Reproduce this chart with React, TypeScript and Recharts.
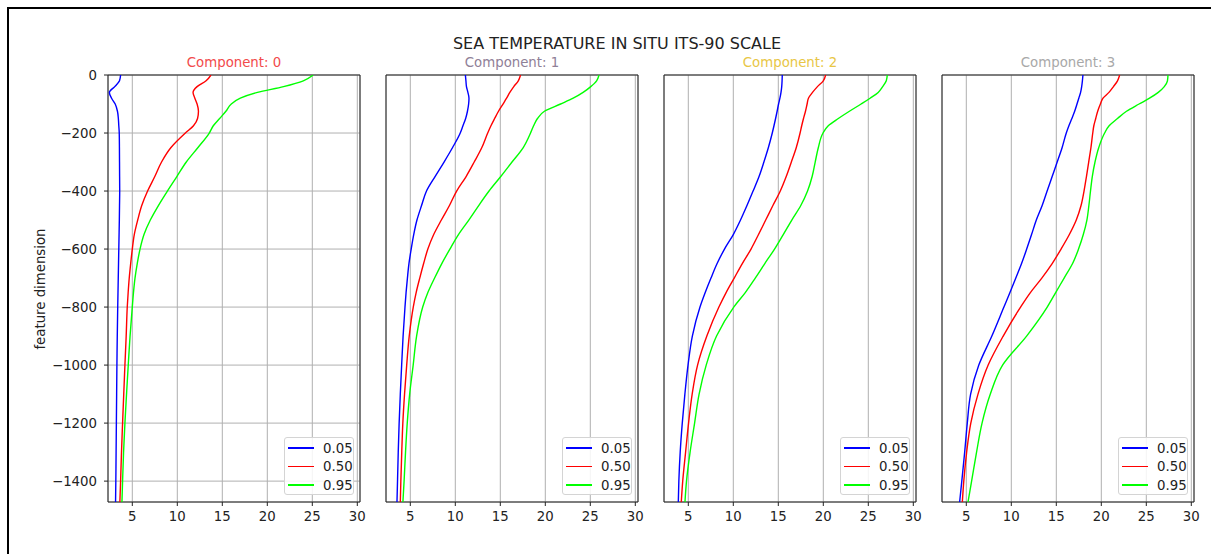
import {
  LineChart,
  Line,
  XAxis,
  YAxis,
  CartesianGrid,
  ReferenceArea,
  Legend,
} from "recharts";

// depth levels (feature dimension), shared by every profile
const depths = [
  0, -20, -40, -60, -80, -100, -125, -150, -175, -200, -250, -300, -350, -400, -450, -500,
  -550, -600, -650, -700, -750, -800, -900, -1000, -1100, -1200, -1300, -1400, -1472,
];

// component 0
const c0q05 = [3.7, 3.58, 3.05, 2.45, 2.7, 3.1, 3.35, 3.45, 3.5, 3.55, 3.57, 3.58, 3.59, 3.6, 3.58, 3.56, 3.53, 3.5, 3.47, 3.44, 3.41, 3.38, 3.33, 3.29, 3.26, 3.23, 3.2, 3.17, 3.14];
const c0q50 = [13.74, 13.2, 12.2, 11.75, 11.95, 12.2, 12.35, 12.25, 11.8, 10.9, 9.3, 8.25, 7.5, 6.7, 6.05, 5.6, 5.22, 5.0, 4.82, 4.66, 4.54, 4.44, 4.32, 4.18, 4.05, 3.92, 3.8, 3.7, 3.62];
const c0q95 = [25.1, 24.0, 21.8, 18.9, 17.0, 16.0, 15.4, 14.7, 14.0, 13.55, 12.3, 11.0, 9.95, 8.9, 7.9, 7.0, 6.3, 5.86, 5.55, 5.3, 5.13, 5.0, 4.75, 4.55, 4.36, 4.18, 4.03, 3.92, 3.85];

// component 1
const c1q05 = [11.12, 11.18, 11.24, 11.4, 11.52, 11.48, 11.35, 11.15, 10.85, 10.55, 9.7, 8.75, 7.75, 6.8, 6.25, 5.74, 5.38, 5.1, 4.85, 4.68, 4.53, 4.41, 4.2, 4.04, 3.89, 3.76, 3.66, 3.58, 3.52];
const c1q50 = [17.25, 17.0, 16.5, 16.06, 15.7, 15.3, 14.8, 14.37, 13.96, 13.6, 12.95, 12.1, 11.2, 10.15, 9.35, 8.45, 7.6, 6.95, 6.48, 6.05, 5.65, 5.33, 4.88, 4.6, 4.36, 4.17, 4.05, 3.95, 3.89];
const c1q95 = [25.97, 25.7, 25.05, 24.2, 23.1, 21.7, 19.9, 19.13, 18.7, 18.36, 17.55, 16.3, 15.05, 13.75, 12.6, 11.5, 10.35, 9.4, 8.5, 7.7, 6.95, 6.38, 5.7, 5.32, 4.93, 4.66, 4.47, 4.31, 4.18];

// component 2
const c2q05 = [15.44, 15.42, 15.38, 15.3, 15.18, 15.03, 14.87, 14.7, 14.52, 14.33, 13.9, 13.4, 12.86, 12.2, 11.52, 10.8, 10.0, 9.02, 8.2, 7.52, 6.88, 6.3, 5.45, 4.97, 4.62, 4.33, 4.1, 3.95, 3.89];
const c2q50 = [20.26, 20.0, 19.35, 18.8, 18.35, 18.2, 18.02, 17.8, 17.6, 17.42, 17.0, 16.45, 15.88, 15.22, 14.4, 13.6, 12.8, 11.97, 11.0, 10.1, 9.2, 8.4, 7.06, 6.03, 5.43, 5.03, 4.7, 4.38, 4.22];
const c2q95 = [27.11, 27.0, 26.6, 26.1, 25.2, 24.2, 22.9, 21.67, 20.55, 19.97, 19.45, 19.1, 18.76, 18.25, 17.5, 16.5, 15.55, 14.58, 13.5, 12.44, 11.33, 10.05, 8.14, 6.99, 6.2, 5.7, 5.2, 4.8, 4.63];

// component 3
const c3q05 = [17.96, 17.9, 17.82, 17.7, 17.5, 17.3, 17.04, 16.73, 16.4, 16.11, 15.65, 15.1, 14.54, 13.98, 13.43, 12.78, 12.25, 11.71, 11.14, 10.5, 9.85, 9.18, 7.84, 6.39, 5.48, 5.11, 4.82, 4.5, 4.26];
const c3q50 = [22.04, 21.8, 21.35, 20.85, 20.19, 19.9, 19.6, 19.38, 19.17, 19.05, 18.85, 18.6, 18.35, 18.08, 17.75, 17.22, 16.45, 15.53, 14.54, 13.39, 12.12, 11.03, 9.1, 7.43, 6.3, 5.5, 5.04, 4.72, 4.56];
const c3q95 = [27.41, 27.35, 27.0, 26.33, 25.36, 24.2, 22.8, 21.8, 20.87, 20.37, 19.72, 19.3, 19.0, 18.8, 18.62, 18.4, 18.0, 17.47, 16.81, 15.87, 14.93, 13.99, 11.7, 9.03, 7.67, 6.75, 6.14, 5.59, 5.19];

const quantiles = ["0.05", "0.50", "0.95"];
const quantileColors = ["#0000ff", "#ff0000", "#00ff00"];
const componentTitles = ["Component: 0", "Component: 1", "Component: 2", "Component: 3"];
const componentColors = ["#f24a4a", "#8f8097", "#e8c645", "#a8a8a8"];
const xTicks = [5, 10, 15, 20, 25, 30];
const yTicks = [0, -200, -400, -600, -800, -1000, -1200, -1400];

const profiles = [
  [c0q05, c0q50, c0q95],
  [c1q05, c1q50, c1q95],
  [c2q05, c2q50, c2q95],
  [c3q05, c3q50, c3q95],
];

const X_DOMAIN: [number, number] = [2.3, 30.3];
const Y_DOMAIN: [number, number] = [-1472, 0];
const PLOT_TOP = 75;
const PLOT_W = 252;
const PLOT_H = 427;
const Y_W = 70;
const PANEL_LEFTS = [108, 386, 664, 942];
const FONT = "'DejaVu Sans', sans-serif";
const FS = 13.3;

const fmt = (v: number) => (v < 0 ? `\u2212${Math.abs(v)}` : `${v}`);

function LegendBox({ payload }: { payload?: { value: string; color: string }[] }) {
  return (
    <div
      style={{
        position: "relative",
        width: 70,
        height: 58,
        boxSizing: "border-box",
        border: "1px solid #d4d4d4",
        borderRadius: 3,
        background: "rgba(255,255,255,0.85)",
      }}
    >
      {(payload ?? []).map((p, i) => (
        <div
          key={p.value}
          style={{
            position: "absolute",
            left: 0,
            top: 1 + i * 18.5,
            height: 18,
            display: "flex",
            alignItems: "center",
          }}
        >
          <div style={{ width: 26, height: 1.5, marginLeft: 3, background: p.color }} />
          <span style={{ marginLeft: 9, fontSize: FS, color: "#222", fontFamily: FONT }}>{p.value}</span>
        </div>
      ))}
    </div>
  );
}

function Panel({ idx }: { idx: number }) {
  const series = profiles[idx];
  const rows = depths.map((d, i) => ({
    depth: d,
    q05: series[0][i],
    q50: series[1][i],
    q95: series[2][i],
  }));
  const left = PANEL_LEFTS[idx];
  const keys = ["q05", "q50", "q95"];
  return (
    <>
      <div
        style={{
          position: "absolute",
          left,
          top: 55,
          width: PLOT_W,
          textAlign: "center",
          fontSize: FS,
          lineHeight: "16px",
          color: componentColors[idx],
        }}
      >
        {componentTitles[idx]}
      </div>
      <div style={{ position: "absolute", left: left - Y_W, top: PLOT_TOP - 10 }}>
        <LineChart
          width={Y_W + PLOT_W + 10}
          height={10 + PLOT_H + 40}
          data={rows}
          layout="vertical"
          margin={{ top: 10, right: 10, bottom: 0, left: 0 }}
        >
          <CartesianGrid stroke="#b0b0b0" strokeWidth={1} />
          <XAxis
            type="number"
            domain={X_DOMAIN}
            ticks={xTicks}
            allowDataOverflow
            height={40}
            axisLine={false}
            tickSize={4}
            tickMargin={6}
            tickLine={{ stroke: "#222" }}
            tick={{ fontSize: FS, fill: "#222", fontFamily: FONT }}
          />
          <YAxis
            type="number"
            dataKey="depth"
            domain={Y_DOMAIN}
            ticks={yTicks}
            reversed
            allowDataOverflow
            width={Y_W}
            axisLine={false}
            tickSize={4}
            tickMargin={7}
            tickLine={{ stroke: "#222" }}
            tick={idx === 0 ? { fontSize: FS, fill: "#222", fontFamily: FONT } : false}
            tickFormatter={fmt}
          />
          {keys.map((k, i) => (
            <Line
              key={k}
              dataKey={k}
              name={quantiles[i]}
              type="monotone"
              stroke={quantileColors[i]}
              strokeWidth={1.4}
              dot={false}
              activeDot={false}
              isAnimationActive={false}
            />
          ))}
          <ReferenceArea
            x1={X_DOMAIN[0]}
            x2={X_DOMAIN[1]}
            y1={Y_DOMAIN[0]}
            y2={Y_DOMAIN[1]}
            fill="none"
            fillOpacity={0}
            stroke="#222"
            strokeWidth={1}
          />
          <Legend
            layout="vertical"
            align="center"
            verticalAlign="middle"
            wrapperStyle={{ left: Y_W + PLOT_W - 76, top: 10 + PLOT_H - 65, width: 70, height: 58 }}
            content={(props: any) => <LegendBox payload={props.payload} />}
          />
        </LineChart>
      </div>
    </>
  );
}

export default function App() {
  return (
    <div
      style={{
        position: "absolute",
        left: 0,
        top: 0,
        width: 1211,
        height: 554,
        overflow: "hidden",
        background: "#fff",
        fontFamily: FONT,
      }}
    >
      <div
        style={{
          position: "absolute",
          left: 7,
          top: 7,
          width: 1400,
          height: 800,
          border: "2px solid #000",
        }}
      />
      <div
        style={{
          position: "absolute",
          left: 367,
          top: 35,
          width: 500,
          textAlign: "center",
          fontSize: 16,
          lineHeight: "18px",
          color: "#222",
        }}
      >
        SEA TEMPERATURE IN SITU ITS-90 SCALE
      </div>
      <div
        style={{
          position: "absolute",
          left: 41 - 100,
          top: PLOT_TOP + PLOT_H / 2 - 8,
          width: 200,
          height: 16,
          lineHeight: "16px",
          textAlign: "center",
          fontSize: FS,
          color: "#222",
          transform: "rotate(-90deg)",
        }}
      >
        feature dimension
      </div>
      {componentTitles.map((_, i) => (
        <Panel key={i} idx={i} />
      ))}
    </div>
  );
}
